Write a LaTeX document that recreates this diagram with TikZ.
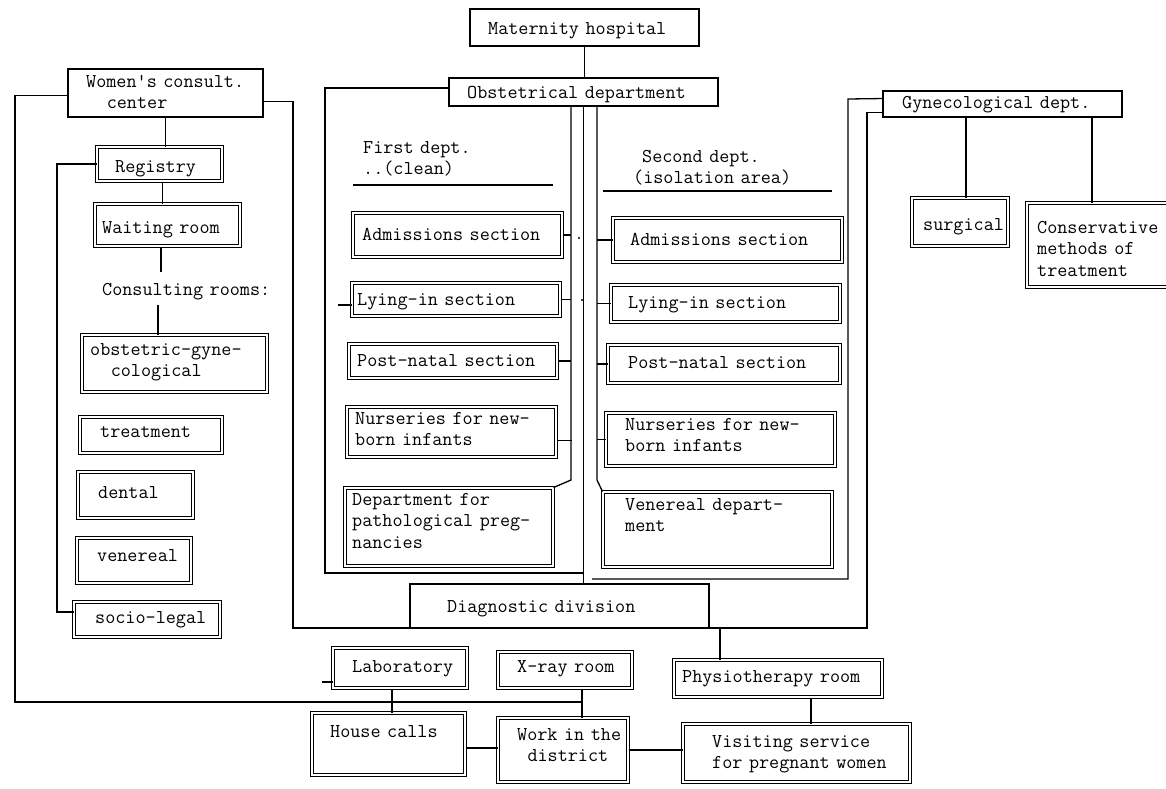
\documentclass[tikz,border=0pt]{standalone}
\usepackage{fontspec}
\usetikzlibrary{fit,calc}
\begin{document}
\begin{tikzpicture}[x=1pt,y=-1pt,
  conn/.style={line width=1.3pt},
  sbox/.style={draw, line width=1.4pt, inner sep=0pt},
  dbox/.style={draw, line width=1pt, double, double distance=2.3pt, inner sep=0pt},
  txt/.style={anchor=base west, inner sep=0pt, text width=300pt, align=left,
    font=\ttfamily\fontsize{19.6}{21.5}\selectfont\addfontfeatures{FakeBold=0.7}},
]
\fill[white] (0,0) rectangle (1166,788);
\useasboundingbox (0,0) rectangle (1166,788);

% ---------- main boxes ----------
\node[sbox, fit={(470,9) (699,46)}] (mh) {};
\node[txt] (mht) at (488,34) {Maternity hospital};
\node[sbox, fit={(449,78) (718,106)}] (od) {};
\node[txt] (odt) at (467,98) {Obstetrical department};
\node[sbox, fit={(68,69) (263,117)}] (wcc) {};
\node[txt] (wcct) at (86,87) {Women's consult.\\\hspace*{20.6pt}center};
\node[sbox, fit={(883,91) (1122,117)}] (gyn) {};
\node[txt] (gynt) at (902,108) {Gynecological dept.};
\node[sbox, fit={(410,584) (709,628)}] (dd) {};
\node[txt] (ddt) at (447,612) {Diagnostic division};

% ---------- women's consultation centre ----------
\node[dbox, fit={(97,147) (222,181)}] (reg) {};
\node[txt] (regt) at (115,172) {Registry};
\node[dbox, fit={(95,204) (240,246)}] (wait) {};
\node[txt] (waitt) at (102,233) {Waiting room};
\node[txt] (consult) at (102,295) {Consulting rooms:};
\node[dbox, fit={(82,335) (267,392)}] (obg) {};
\node[txt] (obgt) at (90,355) {obstetric-gyne-\\\hspace*{20.6pt}cological};
\node[dbox, fit={(80,417) (222,453)}] (treat) {};
\node[txt] (treatt) at (100,437) {treatment};
\node[dbox, fit={(78,472) (193,518)}] (dent) {};
\node[txt] (dentt) at (98,498) {dental};
\node[dbox, fit={(77,538) (191,583)}] (vene) {};
\node[txt] (venet) at (97,561) {venereal};
\node[dbox, fit={(74,602) (220,637)}] (socio) {};
\node[txt] (sociot) at (95,623) {socio-legal};

% ---------- obstetrical department ----------
\node[txt] (first) at (363,153) {First dept.\\..(clean)};
\node[txt] (second) at (633,162) {\hspace*{9pt}Second dept.\\(isolation area)};
\node[dbox, fit={(353,213) (562,257)}] (adm1) {};
\node[txt] (adm1t) at (362,240) {Admissions section};
\node[dbox, fit={(352,283) (560,316)}] (lyi1) {};
\node[txt] (lyi1t) at (357,305) {Lying-in section};
\node[dbox, fit={(349,344) (557,378)}] (pos1) {};
\node[txt] (pos1t) at (357,366) {Post-natal section};
\node[dbox, fit={(347,407) (556,457)}] (nur1) {};
\node[txt] (nur1t) at (355,424) {Nurseries for new-\\born infants};
\node[dbox, fit={(345,488) (553,566)}] (dpp) {};
\node[txt] (dppt) at (352,505) {Department for\\pathological preg-\\nancies};
\node[dbox, fit={(613,218) (842,262)}] (adm2) {};
\node[txt] (adm2t) at (630,245) {Admissions section};
\node[dbox, fit={(611,285) (840,322)}] (lyi2) {};
\node[txt] (lyi2t) at (628,308) {Lying-in section};
\node[dbox, fit={(608,345) (840,383)}] (pos2) {};
\node[txt] (pos2t) at (628,368) {Post-natal section};
\node[dbox, fit={(606,413) (835,466)}] (nur2) {};
\node[txt] (nur2t) at (625,430) {Nurseries for new-\\born infants};
\node[dbox, fit={(603,492) (832,567)}] (ven2) {};
\node[txt] (ven2t) at (625,510) {Venereal depart-\\ment};

% ---------- gynecological department ----------
\node[dbox, fit={(912,198) (1008,246)}] (surg) {};
\node[txt] (surgt) at (923,230) {surgical};
\node[dbox, fit={(1027,203) (1178,287)}] (cons) {};
\node[txt] (const) at (1037,233) {Conservative\\methods of\\treatment};

% ---------- diagnostic and district services ----------
\node[dbox, fit={(333,648) (467,688)}] (lab) {};
\node[txt] (labt) at (352,672) {Laboratory};
\node[dbox, fit={(498,652) (632,688)}] (xray) {};
\node[txt] (xrayt) at (517,672) {X-ray room};
\node[dbox, fit={(674,660) (882,697)}] (phys) {};
\node[txt] (physt) at (682,682) {Physiotherapy room};
\node[dbox, fit={(312,713) (465,775)}] (house) {};
\node[txt] (houset) at (330,737) {House calls};
\node[dbox, fit={(498,718) (628,782)}] (work) {};
\node[txt] (workt) at (517,740) {Work in the\\\hspace*{10.3pt}district};
\node[dbox, fit={(683,724) (910,782)}] (visit) {};
\node[txt] (visitt) at (712,747) {Visiting service\\for pregnant women};

% ---------- connectors ----------
\draw[conn] (mh.south) -- (mh.south |- od.north);

% first department frame and middle line
\coordinate (f1bl) at (325,573);
\draw[conn] ($(od.north west)!0.36!(od.south west)$) -| (f1bl) -- (f1bl -| od.south);
\draw[conn] (od.south) -- (od.south |- dd.north);

% bus of the first department
\coordinate (b1) at (571,480);
\draw[conn] (od.south -| b1) -- (b1) -- (dpp.north east);
\draw[conn] (adm1.east) -- (adm1.east -| b1);
\draw[conn] (lyi1.east) -- (lyi1.east -| b1);
\draw[conn] (pos1.east) -- (pos1.east -| b1);
\draw[conn] ($(nur1.north east)!0.66!(nur1.south east)$) -- ++(15,0);
\fill (579,238) circle (1.2pt);
\fill (582,300) circle (1.2pt);

% bus of the second department
\coordinate (b2) at (597,480);
\draw[conn] (od.south -| b2) -- (b2) -- (ven2.north west);
\draw[conn] (adm2.west) -- (adm2.west -| b2);
\draw[conn] (lyi2.west) -- (lyi2.west -| b2);
\draw[conn] (pos2.west) -- (pos2.west -| b2);
\draw[conn] (nur2.west) -- (nur2.west -| b2);

% underlines of the department headings
\coordinate (u1a) at (353,185); \coordinate (u1b) at (553,185);
\draw[conn] (u1a) -- (u1b);
\coordinate (u2a) at (603,191); \coordinate (u2b) at (832,191);
\draw[conn] (u2a) -- (u2b);

% short stubs
\coordinate (lystub) at (338,305);
\draw[conn] (lystub -| lyi1.west) -- (lystub);
\coordinate (labstub) at (322,682);
\draw[conn] (labstub -| lab.west) -- (labstub);

% second department frame from the gynecological department
\coordinate (f2tr) at (848,99);
\coordinate (f2br) at (848,579);
\coordinate (f2bl) at (592,579);
\draw[conn] ($(gyn.north west)!0.3!(gyn.south west)$) -- (f2tr) -- (f2br) -- (f2bl);

% outer line: women's consultation centre - diagnostic division - gynecology
\coordinate (sw) at (293,628);
\coordinate (se) at (867,628);
\draw[conn] ($(wcc.north east)!0.67!(wcc.south east)$) -| (sw) -- (se)
  |- ($(gyn.north west)!0.8!(gyn.south west)$);
\coordinate (pj) at (720,628);
\draw[conn] (pj) -- (pj |- phys.north);

% women's consultation centre column
\draw[conn] (wcc.south) -- (wcc.south |- reg.north);
\draw[conn] ([xshift=3pt]reg.south) -- ([xshift=3pt]reg.south |- wait.north);
\coordinate (c1) at (161,272);
\draw[conn] (c1 |- wait.south) -- (c1);
\coordinate (c2) at (158,305);
\draw[conn] (c2) -- (c2 |- obg.north);
\coordinate (lc) at (57,612);
\draw[conn] (reg.west) -| (lc) -- (lc -| socio.west);

% long line to the district work
\coordinate (ll) at (15,702);
\coordinate (jn) at (582,702);
\draw[conn] ($(wcc.north west)!0.55!(wcc.south west)$) -| (ll) -- (jn);
\draw[conn] (jn |- xray.south) -- (jn |- work.north);

% bottom rows
\draw[conn] ([xshift=-8pt]lab.south) -- ([xshift=-8pt]lab.south |- house.north);
\coordinate (hw) at (0,748);
\draw[conn] (hw -| house.east) -- (hw -| work.west);
\draw[conn] (work.east) -- (work.east -| visit.west);
\coordinate (pv) at (811,0);
\draw[conn] (pv |- phys.south) -- (pv |- visit.north);

% gynecological subdivisions
\coordinate (gs) at (966,0);
\draw[conn] (gs |- gyn.south) -- (gs |- surg.north);
\coordinate (gc) at (1092,0);
\draw[conn] (gc |- gyn.south) -- (gc |- cons.north);
\end{tikzpicture}
\end{document}
